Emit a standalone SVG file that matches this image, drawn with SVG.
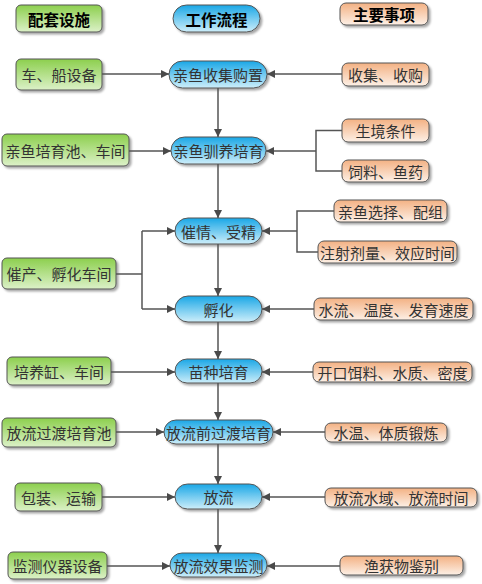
<svg xmlns="http://www.w3.org/2000/svg" width="482" height="584" viewBox="0 0 482 584">
<defs>
<linearGradient id="gG" x1="0" y1="0" x2="0" y2="1"><stop offset="0" stop-color="#8ccf4d"/><stop offset="1" stop-color="#dcf1c8"/></linearGradient>
<linearGradient id="gB" x1="0" y1="0" x2="0" y2="1"><stop offset="0" stop-color="#1aa7e6"/><stop offset="1" stop-color="#cdeefa"/></linearGradient>
<linearGradient id="gO" x1="0" y1="0" x2="0" y2="1"><stop offset="0" stop-color="#f3b183"/><stop offset="1" stop-color="#fdf0e6"/></linearGradient>
<filter id="sh" x="-10%" y="-20%" width="130%" height="160%"><feDropShadow dx="2" dy="2" stdDeviation="1.2" flood-color="#000" flood-opacity="0.35"/></filter>
<marker id="ah" markerWidth="8" markerHeight="8" refX="8" refY="4" orient="auto" markerUnits="userSpaceOnUse"><path d="M0,0 L8,4 L0,8 z" fill="#4a4a4a"/></marker>
</defs>
<style>
.g{fill:url(#gG);stroke:#555;stroke-width:1;filter:url(#sh)}
.b{fill:url(#gB);stroke:#555;stroke-width:1;filter:url(#sh)}
.o{fill:url(#gO);stroke:#555;stroke-width:1;filter:url(#sh)}
text{font-family:"Noto Sans CJK SC","Liberation Sans",sans-serif;font-size:15px;fill:#333;text-anchor:middle;dominant-baseline:central}
.h{font-weight:bold;fill:#000;font-size:15.5px}
.c path,.c line{stroke:#555;stroke-width:1.5;fill:none}
.a{marker-end:url(#ah)}
</style>
<g id="h1"><rect class="g" x="16" y="5" width="86" height="27" rx="5"/><text class="h" x="59" y="18.5">配套设施</text></g>
<g id="h2"><rect class="b" x="173" y="5" width="87" height="27" rx="13.5"/><text class="h" x="216.5" y="18.5">工作流程</text></g>
<g id="h3"><rect class="o" x="340" y="3" width="88" height="22" rx="6"/><text class="h" x="384" y="14">主要事项</text></g>

<g id="g1"><rect class="g" x="16" y="59" width="86" height="31" rx="5"/><text x="59" y="74.5">车、船设备</text></g>
<g id="b1"><rect class="b" x="169" y="61" width="98" height="27" rx="13.5"/><text x="218" y="74.5">亲鱼收集购置</text></g>
<g id="o1"><rect class="o" x="342" y="63" width="87" height="23" rx="6"/><text x="385.5" y="74.5">收集、收购</text></g>

<g id="g2"><rect class="g" x="2" y="134" width="127" height="32" rx="5"/><text x="65.5" y="150">亲鱼培育池、车间</text></g>
<g id="b2"><rect class="b" x="171" y="137" width="95" height="27" rx="13.5"/><text x="218.5" y="150.5">亲鱼驯养培育</text></g>
<g id="o2a"><rect class="o" x="342" y="119" width="87" height="23" rx="6"/><text x="385.5" y="130.5">生境条件</text></g>
<g id="o2b"><rect class="o" x="342" y="160" width="87" height="22" rx="6"/><text x="385.5" y="171">饲料、鱼药</text></g>

<g id="b3"><rect class="b" x="175" y="218" width="87" height="26" rx="13"/><text x="218.5" y="231">催情、受精</text></g>
<g id="b4"><rect class="b" x="175" y="296" width="87" height="26" rx="13"/><text x="218.5" y="309">孵化</text></g>
<g id="o3a"><rect class="o" x="334" y="200" width="113" height="22" rx="6"/><text x="390.5" y="211">亲鱼选择、配组</text></g>
<g id="o3b"><rect class="o" x="318" y="241" width="139" height="22" rx="6"/><text x="387.5" y="252">注射剂量、效应时间</text></g>
<g id="g3"><rect class="g" x="2" y="258" width="114" height="31" rx="5"/><text x="59" y="273.5">催产、孵化车间</text></g>
<g id="o4"><rect class="o" x="314" y="298" width="159" height="22" rx="6"/><text x="393.5" y="309">水流、温度、发育速度</text></g>

<g id="g4"><rect class="g" x="7" y="357" width="104" height="28" rx="5"/><text x="59" y="371">培养缸、车间</text></g>
<g id="b5"><rect class="b" x="175" y="359" width="87" height="24" rx="12"/><text x="218.5" y="371">苗种培育</text></g>
<g id="o5"><rect class="o" x="313" y="362" width="159" height="20" rx="6"/><text x="392.5" y="372">开口饵料、水质、密度</text></g>

<g id="g5"><rect class="g" x="2" y="418" width="114" height="29" rx="5"/><text x="59" y="432.5">放流过渡培育池</text></g>
<g id="b6"><rect class="b" x="164" y="420" width="109" height="24" rx="12"/><text x="218.5" y="432">放流前过渡培育</text></g>
<g id="o6"><rect class="o" x="325" y="423" width="122" height="19" rx="6"/><text x="386" y="432.5">水温、体质锻炼</text></g>

<g id="g6"><rect class="g" x="15" y="483" width="87" height="28" rx="5"/><text x="58.5" y="497">包装、运输</text></g>
<g id="b7"><rect class="b" x="175" y="484" width="87" height="25" rx="12.5"/><text x="218.5" y="496.5">放流</text></g>
<g id="o7"><rect class="o" x="325" y="488" width="152" height="19" rx="6"/><text x="401" y="497.5">放流水域、放流时间</text></g>

<g id="g7"><rect class="g" x="8" y="552" width="99" height="27" rx="5"/><text x="57.5" y="565.5">监测仪器设备</text></g>
<g id="b8"><rect class="b" x="170" y="553" width="97" height="24" rx="12"/><text x="218.5" y="565">放流效果监测</text></g>
<g id="o8"><rect class="o" x="340" y="556" width="123" height="19" rx="6"/><text x="401.5" y="565.5">渔获物鉴别</text></g>

<g id="connectors" class="c">
<path class="a" d="M218,88 V137"/>
<path class="a" d="M218,164 V218"/>
<path class="a" d="M218,244 V296"/>
<path class="a" d="M218,322 V359"/>
<path class="a" d="M218,383 V420"/>
<path class="a" d="M218,444 V484"/>
<path class="a" d="M218,509 V553"/>
<path class="a" d="M102,74 H169"/>
<path class="a" d="M342,74 H267"/>
<path class="a" d="M129,151 H171"/>
<path d="M342,130.5 H316 V171 H342"/>
<path class="a" d="M316,151 H266"/>
<path d="M334,211 H297 V252 H318"/>
<path class="a" d="M297,231 H262"/>
<path d="M116,274 H142"/>
<path d="M142,231 V309"/>
<path class="a" d="M142,231 H175"/>
<path class="a" d="M142,309 H175"/>
<path class="a" d="M314,309 H262"/>
<path class="a" d="M111,372 H175"/>
<path class="a" d="M313,372 H262"/>
<path class="a" d="M116,432 H164"/>
<path class="a" d="M325,432 H273"/>
<path class="a" d="M102,497 H175"/>
<path class="a" d="M325,497 H262"/>
<path class="a" d="M107,566 H170"/>
<path class="a" d="M340,566 H267"/>
</g>
</svg>
